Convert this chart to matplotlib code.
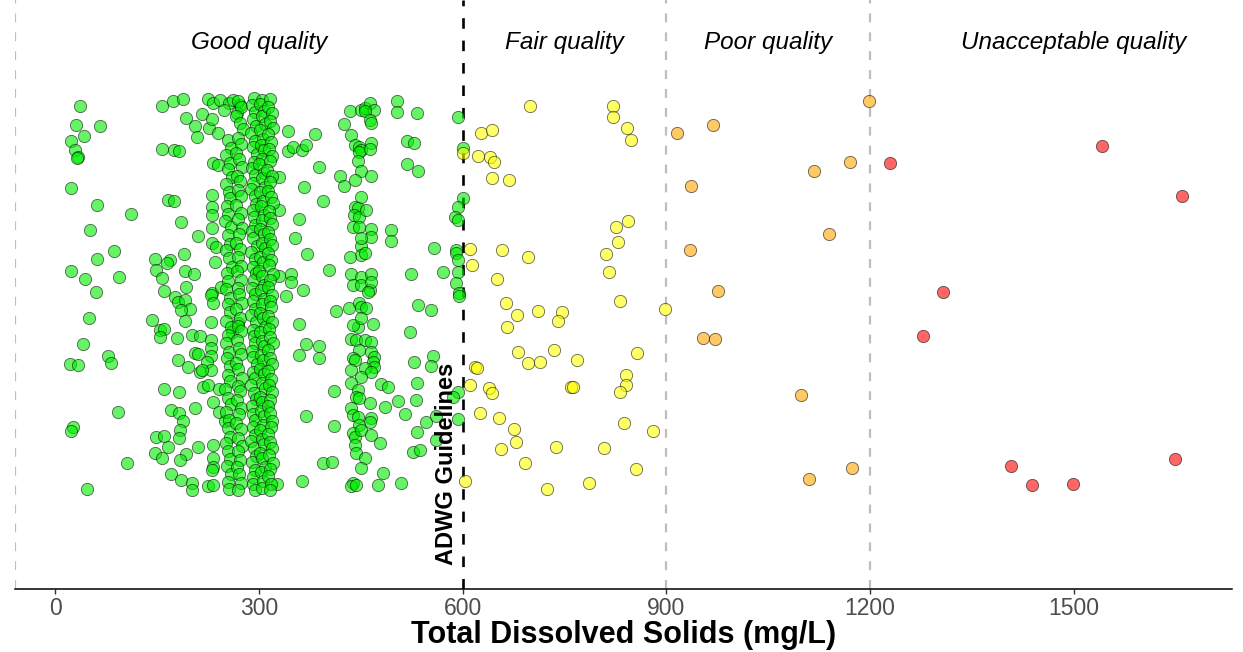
import matplotlib.pyplot as plt

# --- data: TDS (mg/L) and vertical jitter (arbitrary units, 0 = top) ---

# good quality, scattered readings
good_points = [
    (36, 106), (31, 125), (66, 126), (42, 136), (24, 141), (30, 150), (34, 157), (32, 158),
    (23, 188), (62, 205), (112, 214), (51, 230), (86, 251), (61, 259), (24, 271), (44, 279),
    (94, 277), (60, 292), (50, 318), (41, 344), (22, 364), (34, 365), (78, 356), (82, 363),
    (93, 412), (26, 427), (23, 431), (106, 463), (47, 489),
    (157, 106), (174, 101), (189, 99), (192, 118), (206, 126), (209, 137), (217, 114), (227, 128),
    (231, 119), (240, 133), (158, 149), (175, 150), (183, 151), (166, 200), (175, 201), (185, 222),
    (210, 236), (147, 259), (169, 260), (190, 254), (148, 270), (165, 263), (191, 271), (204, 274),
    (157, 278), (161, 291), (192, 287), (176, 297), (181, 302), (191, 300), (198, 309), (186, 310),
    (142, 320), (154, 330), (161, 329), (154, 337), (179, 338), (191, 321), (201, 335), (213, 336),
    (206, 353), (211, 354), (181, 360), (196, 367), (213, 372), (161, 389), (182, 392), (218, 387),
    (225, 385), (170, 410), (182, 413), (189, 421), (206, 408), (149, 437), (161, 436), (166, 447),
    (147, 453), (157, 458), (184, 430), (183, 438), (211, 447), (193, 454), (184, 460), (171, 474),
    (186, 480), (201, 483), (201, 490), (225, 486), (233, 485), (242, 389), (232, 402), (241, 412),
    (250, 421),
    (232, 163), (240, 165), (231, 195), (231, 207), (231, 215), (231, 228), (231, 243), (237, 247),
    (235, 262), (231, 293), (245, 287), (230, 295), (232, 303), (230, 322), (230, 340), (230, 348),
    (230, 356), (223, 362), (230, 370), (217, 370), (233, 445), (232, 458), (233, 467), (231, 470),
    (260, 332), (269, 323),
    (225, 99), (233, 103), (243, 100), (256, 103), (249, 110), (262, 100), (272, 105), (268, 113),
    (343, 131), (383, 134), (343, 151), (350, 147), (363, 150), (369, 145), (389, 167), (419, 176),
    (367, 187), (394, 201), (330, 177), (330, 210), (359, 219), (353, 238), (371, 254), (403, 270),
    (330, 276), (348, 274), (347, 282), (365, 290), (340, 296), (414, 311), (359, 324), (370, 344),
    (389, 346), (359, 355), (389, 358), (411, 391), (370, 416), (411, 426), (394, 463), (407, 462),
    (363, 481), (327, 484),
    (434, 111), (451, 110), (457, 108), (463, 103), (470, 110), (456, 111), (464, 120), (465, 123),
    (504, 101), (504, 112), (533, 113), (426, 124), (435, 135), (441, 145), (447, 147), (451, 150),
    (448, 152), (465, 143), (464, 149), (446, 161), (450, 171), (426, 186), (442, 180), (465, 176),
    (518, 141), (529, 143), (518, 164), (534, 171), (451, 197), (441, 207), (446, 208), (440, 215),
    (447, 217), (458, 210), (439, 227), (448, 227), (465, 229), (465, 237), (495, 230), (495, 241),
    (450, 246), (450, 255), (434, 257), (456, 253), (450, 238), (436, 274), (450, 277), (465, 274),
    (439, 285), (451, 285), (463, 290), (465, 282), (461, 292), (524, 274), (558, 248), (571, 272),
    (433, 308), (448, 303), (451, 307), (458, 308), (468, 324), (446, 327), (438, 325), (451, 318),
    (435, 339), (443, 340), (456, 340), (465, 342), (448, 350), (439, 358), (441, 360), (465, 352),
    (470, 357), (468, 362), (470, 367), (456, 368), (465, 372), (436, 370), (451, 377), (436, 383),
    (446, 390), (443, 397), (448, 398), (463, 403), (436, 408), (439, 415), (446, 417), (465, 418),
    (463, 422), (448, 425), (439, 433), (441, 437), (451, 430), (465, 435), (478, 443), (441, 445),
    (443, 453), (456, 458), (451, 468), (483, 473), (439, 483), (435, 486), (443, 485), (475, 485),
    (510, 483), (480, 384), (490, 387), (505, 401), (486, 407), (515, 414), (522, 332), (534, 305),
    (554, 310), (529, 362), (556, 356), (553, 366), (533, 383), (531, 400), (546, 422), (561, 416),
    (533, 432), (561, 440), (527, 452), (538, 450),
    (593, 117), (600, 148), (600, 198), (593, 207), (589, 217), (593, 220), (591, 250), (591, 253),
    (593, 260), (593, 272), (591, 283), (595, 293), (594, 296), (593, 392), (586, 397), (593, 419),
]

# good quality, the dense streaks of repeated readings
streak_a_tds = [255, 259, 252, 257, 254, 260, 251, 256, 258, 253, 255, 250, 259, 254, 257, 252,
                256, 260, 253, 255, 251, 258, 254, 257, 252, 259, 255, 251, 256, 253, 258, 254,
                257, 250, 255, 259, 252, 256, 254, 258, 251, 255, 257, 253, 259, 254, 256]
streak_a_jit = [140, 148, 155, 163, 169, 177, 184, 192, 198, 206, 214, 221, 227, 235, 244, 250,
                258, 267, 273, 281, 289, 298, 304, 312, 321, 327, 335, 343, 352, 358, 366, 375,
                381, 389, 398, 404, 412, 420, 428, 437, 443, 451, 459, 466, 474, 482, 489]

streak_b_tds = [270, 274, 267, 272, 276, 269, 273, 266, 271, 275, 268, 272, 270, 274, 267, 273,
                269, 275, 271, 266, 272, 270, 274, 268, 273, 269, 271, 275, 267, 272, 270, 274,
                268, 271, 273, 266, 270, 275, 269, 272, 268, 274, 271, 267, 273, 270, 275, 269,
                272, 268, 271, 274, 270]
streak_b_jit = [101, 107, 116, 123, 129, 138, 144, 153, 159, 167, 176, 181, 190, 196, 205, 213,
                219, 228, 234, 243, 249, 257, 266, 271, 280, 288, 294, 303, 309, 318, 326, 331,
                340, 348, 354, 363, 369, 378, 386, 391, 400, 408, 414, 423, 429, 438, 446, 451,
                460, 467, 474, 483, 490]

streak_c_tds = [293, 290, 295, 292, 296, 289, 294, 291, 297, 293, 290, 295, 292, 288, 294, 296,
                291, 293, 295, 290, 292, 297, 289, 294, 291, 296, 293, 290, 295, 292, 294, 289,
                296, 291, 293, 295, 290, 292, 297, 291, 294, 289, 293, 296, 290, 292, 295, 291,
                294, 288, 293, 296, 290, 295, 292, 291, 294]
streak_c_jit = [98, 105, 112, 119, 126, 133, 141, 147, 154, 162, 168, 175, 183, 189, 196, 204,
                210, 217, 225, 231, 238, 246, 252, 259, 267, 273, 280, 288, 294, 301, 309, 315,
                322, 330, 336, 343, 351, 357, 364, 372, 378, 385, 393, 399, 406, 414, 420, 427,
                435, 441, 448, 456, 462, 470, 477, 484, 490]

streak_d_tds = [305, 302, 307, 304, 309, 301, 306, 303, 308, 305, 300, 307, 304, 309, 302, 306,
                303, 308, 305, 301, 307, 304, 309, 302, 306, 300, 305, 308, 303, 307, 304, 301,
                306, 309, 302, 305, 308, 303, 306, 301, 307, 304, 309, 302, 305, 303, 308, 306,
                301, 304, 307, 302, 305, 309, 303, 306, 304]
streak_d_jit = [100, 104, 111, 116, 124, 130, 139, 145, 150, 159, 164, 173, 178, 187, 192, 201,
                206, 215, 220, 229, 234, 243, 248, 257, 262, 271, 276, 285, 290, 299, 304, 313,
                318, 327, 332, 341, 346, 355, 360, 369, 374, 383, 388, 397, 402, 411, 416, 425,
                430, 439, 444, 453, 458, 467, 472, 481, 488]

streak_e_tds = [317, 314, 319, 316, 321, 313, 318, 315, 320, 317, 312, 319, 316, 314, 318, 321,
                315, 317, 320, 313, 316, 319, 314, 318, 315, 321, 317, 313, 320, 316, 318, 314,
                319, 315, 317, 321, 313, 316, 320, 314, 318, 315, 319, 317, 313, 316, 320, 318,
                314, 317, 319, 315, 321, 316, 313, 318, 316]
streak_e_jit = [99, 107, 113, 121, 128, 134, 142, 149, 156, 161, 170, 176, 182, 191, 197, 203,
                211, 218, 224, 232, 239, 245, 253, 260, 265, 274, 280, 287, 295, 301, 307, 316,
                322, 329, 337, 343, 350, 358, 364, 371, 379, 385, 392, 400, 406, 413, 421, 427,
                434, 442, 448, 455, 463, 469, 476, 484, 490]

fair_points = [
    (699, 106), (821, 106), (821, 117), (842, 128), (848, 140), (627, 133), (643, 130), (600, 153),
    (622, 156), (641, 157), (646, 162), (643, 178), (669, 180), (826, 227), (844, 221), (829, 242),
    (811, 254), (816, 272), (611, 249), (658, 250), (697, 257), (614, 265), (651, 279), (664, 303),
    (680, 315), (666, 327), (711, 311), (746, 312), (741, 321), (832, 301), (898, 309), (681, 352),
    (697, 363), (714, 362), (735, 350), (768, 360), (857, 353), (619, 367), (621, 368), (611, 385),
    (639, 388), (644, 393), (760, 387), (763, 387), (840, 375), (840, 385), (832, 392), (625, 413),
    (654, 418), (675, 429), (679, 442), (656, 449), (738, 447), (808, 448), (837, 423), (880, 431),
    (692, 463), (855, 469), (604, 481), (724, 489), (786, 483),
]

poor_points = [
    (1199, 101), (915, 133), (968, 125), (1170, 162), (1118, 171), (937, 186), (1140, 234),
    (935, 250), (976, 291), (954, 338), (971, 339), (1099, 395), (1173, 468), (1110, 479),
]

unacceptable_points = [
    (1542, 146), (1229, 163), (1659, 196), (1307, 292), (1278, 336), (1408, 466), (1439, 485),
    (1499, 484), (1649, 459),
]

region_labels = ['Good quality', 'Fair quality', 'Poor quality', 'Unacceptable quality']
region_centres = [300, 750, 1050, 1500]
guideline = 600
class_breaks = [900, 1200]
xticks = [0, 300, 600, 900, 1200, 1500]

# --- figure ---
plt.rcParams['font.family'] = ['Liberation Sans', 'DejaVu Sans']

fig = plt.figure(figsize=(12.43, 6.52), dpi=100)
ax = fig.add_axes([0.0121, 0.0966, 0.9791, 0.9034])
xmin, xmax = -59, 1733
ax.set_xlim(xmin, xmax)
ax.set_ylim(589, 0)

# reference lines
dash = (4, 4.5)
ax.axvline(xmin, color='#BEBEBE', lw=1.6, ls=(0, dash), zorder=1)
for b in class_breaks:
    ax.axvline(b, color='#BEBEBE', lw=1.6, ls=(0, dash), zorder=1)
ax.axvline(guideline, color='black', lw=1.9, ls=(0, dash), zorder=1)

good_tds = [p[0] for p in good_points] + streak_a_tds + streak_b_tds + streak_c_tds + streak_d_tds + streak_e_tds
good_jit = [p[1] for p in good_points] + streak_a_jit + streak_b_jit + streak_c_jit + streak_d_jit + streak_e_jit

groups = [
    (good_tds, good_jit, '#00EE00'),
    ([p[0] for p in fair_points], [p[1] for p in fair_points], '#FFFF00'),
    ([p[0] for p in poor_points], [p[1] for p in poor_points], '#FFA500'),
    ([p[0] for p in unacceptable_points], [p[1] for p in unacceptable_points], '#FF0000'),
]
for xs, ys, col in groups:
    ax.scatter(xs, ys, s=78, facecolor=col, edgecolor='black', linewidths=0.6,
               alpha=0.6, zorder=3)

for lab, cx in zip(region_labels, region_centres):
    ax.text(cx, 42, lab, ha='center', va='center', fontsize=17.5, style='italic', color='black')

ax.text(guideline - 23, 565, 'ADWG Guidelines', rotation=90, ha='center', va='bottom',
        fontsize=17, fontweight='bold', zorder=4)

# axes styling
for s in ['top', 'right', 'left']:
    ax.spines[s].set_visible(False)
ax.spines['bottom'].set_linewidth(1.1)
ax.set_yticks([])
ax.set_xticks(xticks)
ax.tick_params(axis='x', length=3.6, width=1, color='#333333', labelsize=16.5,
               labelcolor='#4D4D4D', pad=2.5)
ax.set_xlabel('Total Dissolved Solids (mg/L)', fontsize=22, fontweight='bold', labelpad=0)

fig.savefig('out.png', dpi=100)
